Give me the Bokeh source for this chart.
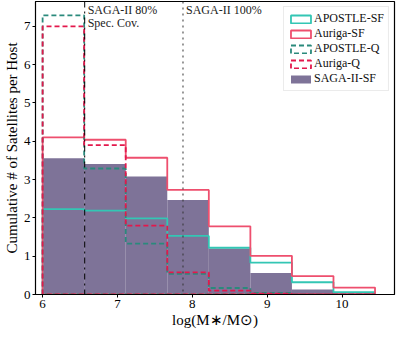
import numpy as np
from bokeh.plotting import figure
from bokeh.models import Span, Legend, LegendItem, Range1d
from bokeh.core.properties import value
from bokeh.embed import file_html
from bokeh.resources import INLINE

# ---- data ----
edges = [6.0, 6.555, 7.11, 7.665, 8.22, 8.775, 9.33, 9.885, 10.44]
saga_sf = [3.56, 3.41, 3.08, 2.47, 1.20, 0.56, 0.13, 0.0]
auriga_sf = [4.10, 4.04, 3.57, 2.73, 1.78, 1.01, 0.48, 0.18]
apostle_sf = [2.23, 2.19, 1.99, 1.53, 1.22, 0.83, 0.32, 0.06]
apostle_q = [7.29, 3.29, 1.33, 0.54, 0.17, 0.04, 0.0, 0.0]
auriga_q = [7.00, 3.90, 1.80, 0.58, 0.10, 0.02, 0.0, 0.0]
saga80_x = 6.562
saga100_x = 7.875
x_ticks = [6, 7, 8, 9, 10]
y_ticks = [0, 1, 2, 3, 4, 5, 6, 7]

FONT = "Liberation Serif"
C_APO_SF = "#33c6b4"
C_AUR_SF = "#ee4f6e"
C_APO_Q = "#2a8a7c"
C_AUR_Q = "#e3184c"
C_SAGA = "#7e7398"

p = figure(width=399, height=330, output_backend="svg", toolbar_location=None,
           x_range=Range1d(5.905, 10.70), y_range=Range1d(0, 7.65),
           min_border_left=30, min_border_right=5, min_border_top=1, min_border_bottom=0)
p.grid.visible = False
p.outline_line_color = "black"
p.outline_line_width = 1.2
p.background_fill_color = "white"

for ax in (p.xaxis, p.yaxis):
    ax.major_tick_in = 0
    ax.major_tick_out = 3
    ax.minor_tick_line_color = None
    ax.axis_line_color = "black"
    ax.major_tick_line_color = "black"
    ax.major_label_text_font = FONT
    ax.major_label_text_font_size = "13px"
    ax.major_label_text_color = "black"
    ax.axis_label_text_font = FONT
    ax.axis_label_text_font_size = "15px"
    ax.axis_label_text_font_style = "normal"
    ax.axis_label_text_color = "black"
    ax.major_label_standoff = 2
    ax.axis_label_standoff = 1

p.xaxis.ticker = x_ticks
p.yaxis.ticker = y_ticks
p.xaxis.axis_label = "log(M\u2217/M\u2299)"
p.yaxis.axis_label = "Cumulative # of Satellites per Host"

# filled SAGA histogram
e = np.array(edges)
r_saga = p.quad(left=e[:-1], right=e[1:], bottom=0, top=saga_sf,
                fill_color=C_SAGA, line_color=None)

def step(vals):
    xs = np.repeat(e, 2)
    ys = np.concatenate([[0.0], np.repeat(np.array(vals), 2), [0.0]])
    return xs, ys

rends = []
for vals, col, dash in [(apostle_sf, C_APO_SF, "solid"),
                        (auriga_sf, C_AUR_SF, "solid"),
                        (apostle_q, C_APO_Q, "5 3"),
                        (auriga_q, C_AUR_Q, "5 3")]:
    xs, ys = step(vals)
    r = p.patch(xs, ys, fill_color=None, line_color=col, line_width=1.8, line_dash=dash)
    rends.append(r)

p.add_layout(Span(location=saga80_x, dimension="height", line_color="black",
                  line_width=1, line_dash="dashdot"))
p.add_layout(Span(location=saga100_x, dimension="height", line_color="#333333",
                  line_width=1, line_dash="dotted"))

p.text(x=[saga80_x + 0.04, saga80_x + 0.04, saga100_x + 0.04],
       y=[7.60, 7.26, 7.60],
       text=["SAGA-II 80%", "Spec. Cov.", "SAGA-II 100%"],
       text_font=value(FONT), text_font_size="12px", text_color="#222222",
       text_baseline="top", text_align="left")

legend = Legend(items=[LegendItem(label="APOSTLE-SF", renderers=[rends[0]]),
                       LegendItem(label="Auriga-SF", renderers=[rends[1]]),
                       LegendItem(label="APOSTLE-Q", renderers=[rends[2]]),
                       LegendItem(label="Auriga-Q", renderers=[rends[3]]),
                       LegendItem(label="SAGA-II-SF", renderers=[r_saga])],
                location="top_right")
legend.label_text_font = FONT
legend.label_text_font_size = "12px"
legend.label_text_color = "#111111"
legend.label_height = 10
legend.glyph_height = 10
legend.glyph_width = 25
legend.label_standoff = 1
legend.spacing = 0
legend.padding = 4
legend.margin = 5
legend.border_line_color = "#d8d8d8"
legend.background_fill_alpha = 0.9
p.add_layout(legend)

open("out.html", "w").write(file_html(p, INLINE))
